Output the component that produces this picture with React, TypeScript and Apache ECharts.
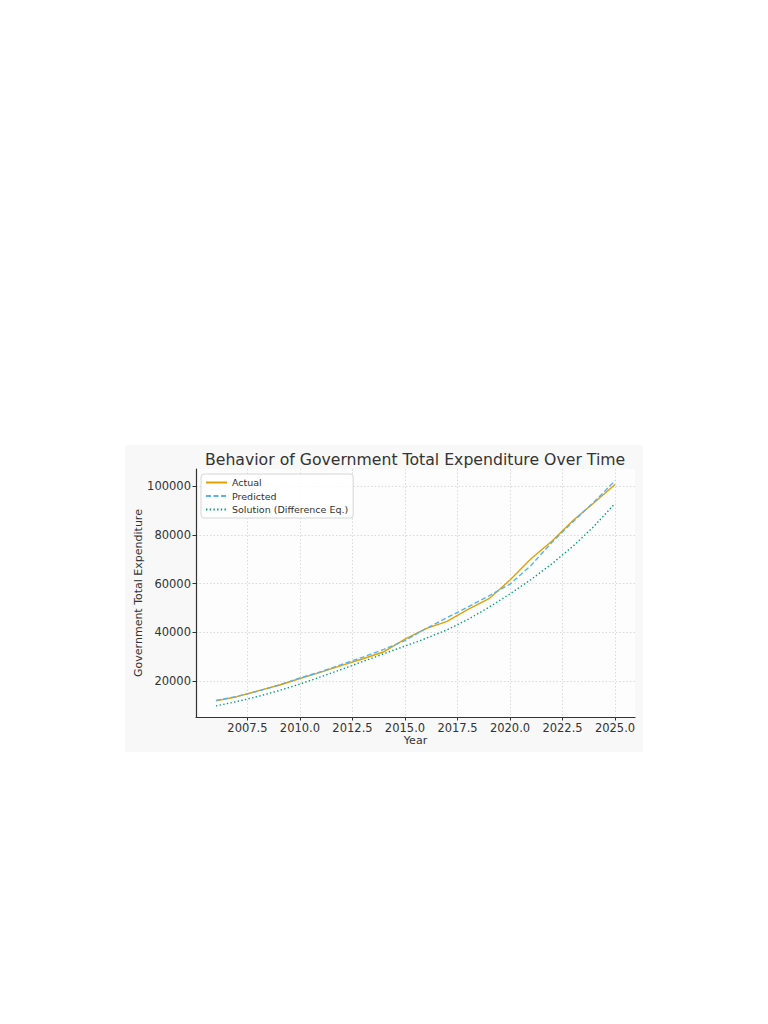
import React, { useEffect, useRef } from 'react';
import * as echarts from 'echarts';

// Years on the x axis
const years = [2006, 2007, 2008, 2009, 2010, 2011, 2012, 2013, 2014, 2015, 2016, 2017, 2018, 2019, 2020, 2021, 2022, 2023, 2024, 2025];

// Values
const actual = [11800, 13500, 15900, 18200, 21000, 23600, 26400, 29100, 32000, 37200, 41500, 44500, 49400, 53800, 61500, 70200, 77500, 86000, 93300, 100800];
const predicted = [12000, 13600, 15800, 18300, 21200, 23800, 26800, 29800, 33000, 36600, 41500, 46000, 50400, 55000, 59800, 67500, 77000, 85500, 93600, 102300];
const solution = [9700, 11500, 13600, 16000, 18700, 21700, 24800, 28000, 31200, 34300, 37500, 41000, 45300, 50300, 55800, 61700, 68200, 75400, 83600, 93000];

const xTicks = [2007.5, 2010.0, 2012.5, 2015.0, 2017.5, 2020.0, 2022.5, 2025.0];
const yTicks = [20000, 40000, 60000, 80000, 100000];

const FONT = 'DejaVu Sans';

const App: React.FC = () => {
    const chartRef = useRef<HTMLDivElement>(null);

    useEffect(() => {
        if (!chartRef.current) return;
        const chart = echarts.init(chartRef.current, undefined, { renderer: 'svg' });

        const toPairs = (vals: number[]) => years.map((y, i) => [y, vals[i]]);

        const option = {
            animation: false,
            textStyle: { fontFamily: FONT },
            graphic: [
                {
                    type: 'rect',
                    z: -10,
                    silent: true,
                    shape: { x: 125, y: 445, width: 518, height: 307 },
                    style: { fill: '#f8f8f8' },
                },
            ],
            title: {
                text: 'Behavior of Government Total Expenditure Over Time',
                left: 205,
                top: 451,
                padding: 0,
                textStyle: { fontFamily: FONT, fontSize: 15.7, fontWeight: 'normal', color: '#333' },
            },
            legend: {
                orient: 'vertical',
                left: 201,
                top: 474,
                padding: [3, 5, 3, 4],
                itemGap: 2.5,
                itemWidth: 21,
                itemHeight: 11,
                itemStyle: { opacity: 0 },
                borderColor: '#d6d6d6',
                borderWidth: 1,
                borderRadius: 3,
                backgroundColor: 'rgba(255,255,255,0.85)',
                textStyle: { fontFamily: FONT, fontSize: 9.5, color: '#333', lineHeight: 11 },
                data: ['Actual', 'Predicted', 'Solution (Difference Eq.)'],
            },
            grid: {
                left: 196,
                top: 469,
                right: 133,
                bottom: 307,
                show: true,
                backgroundColor: '#fdfdfd',
                borderWidth: 0,
            },
            xAxis: {
                type: 'value',
                min: 2005.05,
                max: 2025.95,
                name: 'Year',
                nameLocation: 'middle',
                nameGap: 18,
                nameTextStyle: { fontFamily: FONT, fontSize: 11, color: '#333' },
                axisLine: { show: true, onZero: false, lineStyle: { color: '#333', width: 1.2 } },
                axisTick: { show: true, length: 3.5, customValues: xTicks, lineStyle: { color: '#333' } },
                axisLabel: {
                    customValues: xTicks,
                    margin: 5,
                    fontFamily: FONT,
                    fontSize: 11.5,
                    color: '#333',
                    formatter: (v: number) => v.toFixed(1),
                },
                splitLine: { show: true, lineStyle: { color: '#d0d0d0', width: 0.8, type: [1.5, 2] } },
            },
            yAxis: {
                type: 'value',
                min: 5150,
                max: 107150,
                name: 'Government Total Expenditure',
                nameLocation: 'middle',
                nameGap: 52,
                nameMoveOverlap: false,
                nameTextStyle: { fontFamily: FONT, fontSize: 11, color: '#333' },
                axisLine: { show: true, onZero: false, lineStyle: { color: '#333', width: 1.2 } },
                axisTick: { show: true, length: 3.5, customValues: yTicks, lineStyle: { color: '#333' } },
                axisLabel: {
                    customValues: yTicks,
                    margin: 5,
                    fontFamily: FONT,
                    fontSize: 11.5,
                    color: '#333',
                    formatter: (v: number) => String(v),
                },
                splitLine: { show: true, lineStyle: { color: '#d0d0d0', width: 0.8, type: [1.5, 2] } },
            },
            series: [
                {
                    name: 'Actual',
                    type: 'line',
                    data: toPairs(actual),
                    showSymbol: false,
                    symbol: 'none',
                    color: '#E69F00',
                    lineStyle: { color: '#E69F00', width: 1.4 },
                },
                {
                    name: 'Predicted',
                    type: 'line',
                    data: toPairs(predicted),
                    showSymbol: false,
                    symbol: 'none',
                    color: '#56B4E9',
                    lineStyle: { color: '#56B4E9', width: 1.4, type: [5, 2.5] },
                },
                {
                    name: 'Solution (Difference Eq.)',
                    type: 'line',
                    data: toPairs(solution),
                    showSymbol: false,
                    symbol: 'none',
                    color: '#009E73',
                    lineStyle: { color: '#009E73', width: 1.4, type: [1.4, 2.3] },
                },
            ],
        };

        chart.setOption(option);

        return () => {
            chart.dispose();
        };
    }, []);

    return (
        <div
            ref={chartRef}
            style={{ position: 'absolute', left: 0, top: 0, width: '768px', height: '1024px', background: '#fff' }}
        />
    );
};

export default App;
